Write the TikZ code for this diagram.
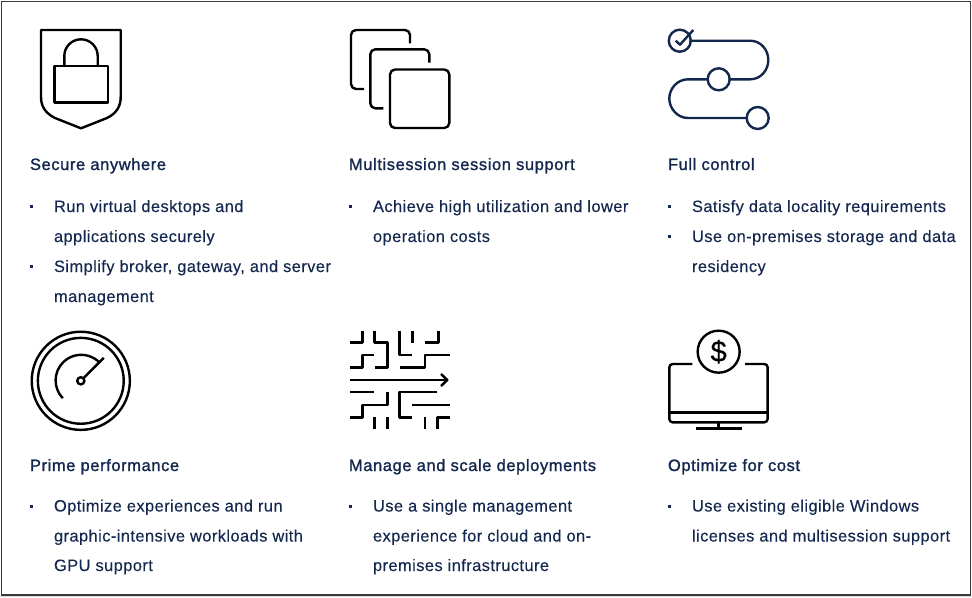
\documentclass[tikz,border=0pt]{standalone}
\usepackage{fontspec}
\setmainfont{Liberation Sans}[LetterSpace=2.5,FakeBold=0.15]
\newfontfamily\titlefont{Liberation Sans}[FakeBold=1.3,LetterSpace=3.7]
\definecolor{navy}{HTML}{14284F}
\definecolor{iconnavy}{HTML}{12284C}
\definecolor{framegray}{HTML}{3A3A3A}
\tikzset{
  x=0.75pt,y=-0.75pt,
  icon/.style={line width=1.8pt,black,line join=round},
  navyicon/.style={line width=1.8pt,iconnavy,line join=round},
  body/.style={anchor=base west,inner sep=0,outer sep=0,text=navy,font=\fontsize{12.35pt}{14pt}\selectfont},
  head/.style={anchor=base west,inner sep=0,outer sep=0,text=navy,font=\fontsize{12.35pt}{14pt}\titlefont},
  bul/.style={rectangle,fill=navy,minimum size=2pt,inner sep=0,outer sep=0}
}
\begin{document}
\begin{tikzpicture}
\useasboundingbox (0,0) rectangle (972,597);
\fill[white] (0,0) rectangle (972,597);
\fill[black!15] (0,596) rectangle (972,597);
\draw[framegray,line width=1.1pt] (1.7,1.5) rectangle (970.5,595);

% shield
\draw[icon] (41,30) -- (120.7,30) -- (120.7,97) .. controls (120.7,106) and (117,113) .. (107,118) -- (81,128.3) -- (55,118) .. controls (45,113) and (41,106) .. (41,97) -- cycle;
\draw[icon] (54.3,65.7) rectangle (108,102.3);
\draw[icon] (64.3,65.7) -- (64.3,56) arc[start angle=180,end angle=0,x radius=16.7,y radius=-16.7] -- (97.7,65.7);

% squares
\draw[icon,rounded corners=3.75pt] (410,43.3) -- (410,30) -- (351,30) -- (351,89) -- (364,89);
\draw[icon,rounded corners=3.75pt] (429.3,62.6) -- (429.3,49.3) -- (370.3,49.3) -- (370.3,108.3) -- (383.3,108.3);
\draw[icon,rounded corners=3.75pt] (390,69.5) rectangle (449.3,128);

% full control
\draw[navyicon] (689.3,40.7) -- (750,40.7) .. controls (761,40.7) and (768.3,50) .. (768.3,60) .. controls (768.3,70) and (761,79.3) .. (750,79.3) -- (728.7,79.3);
\draw[navyicon] (708.7,79.3) -- (688,79.3) .. controls (677,79.3) and (669.3,89) .. (669.3,98.5) .. controls (669.3,108) and (677,118) .. (688,118) -- (747.3,118);
\node[draw=iconnavy,line width=1.8pt,circle,minimum size=16.5pt,inner sep=0] (c1) at (679.8,40.7) {};
\node[draw=iconnavy,line width=1.8pt,circle,minimum size=16.5pt,inner sep=0] (c2) at (718.7,79.3) {};
\node[draw=iconnavy,line width=1.8pt,circle,minimum size=16.5pt,inner sep=0] (c3) at (757.7,118) {};
\draw[navyicon] (675.7,40.7) -- (680,44.7) -- (693.3,30);

% gauge
\draw[icon] (80.8,380.8) circle[radius=36.8pt];
\draw[icon] (80.8,380.8) circle[radius=32.2pt];
\draw[icon] (62.8,398.2) arc[start angle=224,end angle=43,radius=19.2pt];
\draw[icon] (80.8,380.8) circle[radius=2.7pt];
\draw[icon] (83.3,378.3) -- (103.8,357.8);

% maze
\begin{scope}[shift={(340,320)},x=0.25pt,y=-0.25pt]
\draw[icon] (30,68) -- (68,68) -- (68,32);
\draw[icon] (103,32) -- (103,68) -- (143,68) -- (143,143) -- (105,143);
\draw[icon] (178,32) -- (178,105) -- (217,105);
\draw[icon] (217,32) -- (217,68);
\draw[icon] (255,68) -- (295,68) -- (295,32);
\draw[icon] (30,143) -- (68,143) -- (68,105) -- (103,105);
\draw[icon] (180,143) -- (255,143) -- (255,105) -- (330,105);
\draw[icon] (30,180) -- (322,180);
\draw[icon] (303,162) -- (322,180) -- (303,198);
\draw[icon] (30,216) -- (103,216);
\draw[icon] (30,292) -- (68,292) -- (68,255) -- (143,255) -- (143,217);
\draw[icon] (292,216) -- (178,216) -- (178,292) -- (217,292);
\draw[icon] (217,255) -- (330,255);
\draw[icon] (103,292) -- (103,328);
\draw[icon] (143,292) -- (143,328);
\draw[icon] (255,292) -- (255,328);
\draw[icon] (330,292) -- (292,292) -- (292,328);
\end{scope}

% monitor
\begin{scope}[shift={(660,325)},x=0.25pt,y=-0.25pt]
\draw[icon,rounded corners=2.5pt] (97,117) -- (28,117) -- (28,292) -- (323,292) -- (323,117) -- (255,117);
\draw[icon] (28,262) -- (323,262);
\draw[icon] (176,292) -- (176,310);
\draw[icon] (108,310) -- (245,310);
\node[draw=black,line width=1.8pt,circle,minimum size=31.5pt,inner sep=0,font=\fontsize{22pt}{22pt}\selectfont,text=black] (dollar) at (176,80) {\$};
\end{scope}

% texts
\node[head] (t1) at (30,170) {Secure anywhere};
\node[bul] (b1a) at (31.5,206.5) {};
\node[body] (l1a) at (54,212) {Run virtual desktops and};
\node[body] (l1b) at (54,242) {applications securely};
\node[bul] (b1b) at (31.5,266.5) {};
\node[body] (l1c) at (54,272) {Simplify broker, gateway, and server};
\node[body] (l1d) at (54,302) {management};

\node[head] (t2) at (349,170) {Multisession session support};
\node[bul] (b2a) at (350.5,206.5) {};
\node[body] (l2a) at (373,212) {Achieve high utilization and lower};
\node[body] (l2b) at (373,242) {operation costs};

\node[head] (t3) at (668,170) {Full control};
\node[bul] (b3a) at (669.5,206.5) {};
\node[body] (l3a) at (692,212) {Satisfy data locality requirements};
\node[bul] (b3b) at (669.5,236.5) {};
\node[body] (l3b) at (692,242) {Use on-premises storage and data};
\node[body] (l3c) at (692,272) {residency};

\node[head] (t4) at (30,471) {Prime performance};
\node[bul] (b4a) at (31.5,506.5) {};
\node[body] (l4a) at (54,511.5) {Optimize experiences and run};
\node[body] (l4b) at (54,541.5) {graphic-intensive workloads with};
\node[body] (l4c) at (54,571) {GPU support};

\node[head] (t5) at (349,471) {Manage and scale deployments};
\node[bul] (b5a) at (350.5,506.5) {};
\node[body] (l5a) at (373,511.5) {Use a single management};
\node[body] (l5b) at (373,541.5) {experience for cloud and on-};
\node[body] (l5c) at (373,571) {premises infrastructure};

\node[head] (t6) at (668,471) {Optimize for cost};
\node[bul] (b6a) at (669.5,506.5) {};
\node[body] (l6a) at (692,511.5) {Use existing eligible Windows};
\node[body] (l6b) at (692,541.5) {licenses and multisession support};
\end{tikzpicture}
\end{document}
